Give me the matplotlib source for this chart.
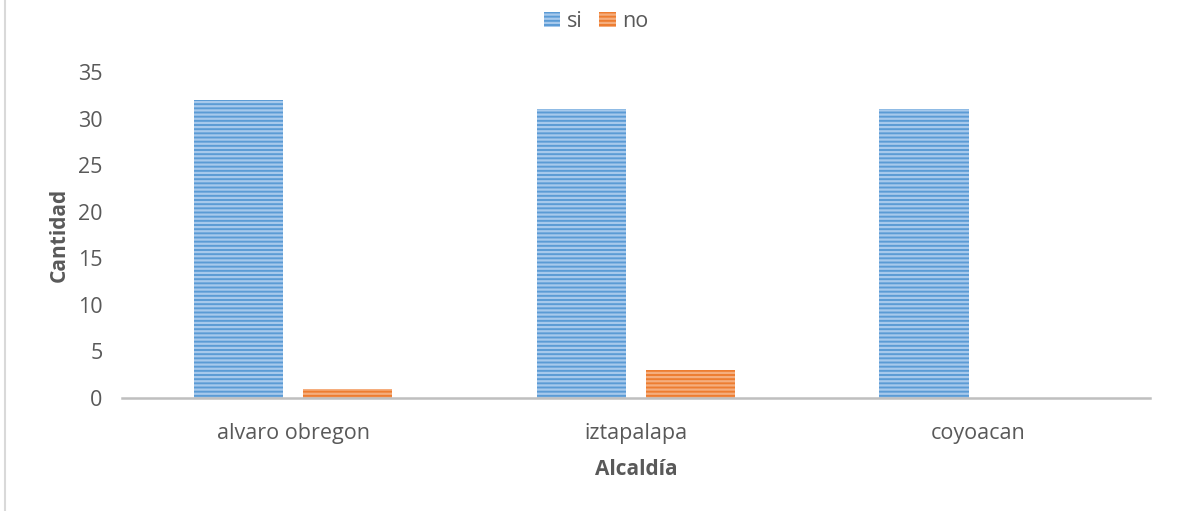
import matplotlib
matplotlib.use("Agg")
import matplotlib.pyplot as plt
import numpy as np
from matplotlib.lines import Line2D

categories = ["alvaro obregon", "iztapalapa", "coyoacan"]
si_values = [32, 31, 31]
no_values = [1, 3, 0]
series_names = ["si", "no"]
yticks = [0, 5, 10, 15, 20, 25, 30, 35]

plt.rcParams["font.family"] = ["Open Sans", "DejaVu Sans"]
plt.rcParams["hatch.linewidth"] = 1.6

fig = plt.figure(figsize=(11.78, 5.11), dpi=100)
ax = fig.add_axes([0.1036, 0.2211, 0.8724, 0.6380])

x = np.arange(len(categories))
width = 0.26
gap = 0.058
offset = (width + gap) / 2

ax.bar(x - offset, si_values, width, color="#5B9BD5", edgecolor="#A7C9EC",
       hatch="----", linewidth=0, label=series_names[0])
ax.bar(x + offset, no_values, width, color="#ED7D31", edgecolor="#F5AE7E",
       hatch="----", linewidth=0, label=series_names[1])

ax.set_xlim(-0.5, len(categories) - 0.5)
ax.set_ylim(0, 35)
ax.set_yticks(yticks)
ax.set_xticks(x)
ax.set_xticklabels(categories)

for side in ("left", "right", "top"):
    ax.spines[side].set_visible(False)
ax.spines["bottom"].set_color("#BFBFBF")
ax.spines["bottom"].set_linewidth(1.8)
ax.tick_params(axis="both", length=0, labelsize=15.5, colors="#595959")
ax.tick_params(axis="x", pad=18)
ax.tick_params(axis="y", pad=14)

ax.set_xlabel("Alcaldía", fontsize=15, fontweight="bold", color="#595959", labelpad=11)
ax.set_ylabel("Cantidad", fontsize=15, fontweight="bold", color="#595959", labelpad=6)

fig.legend(loc="center", bbox_to_anchor=(0.506, 0.958), ncol=2, frameon=False,
           fontsize=15.5, labelcolor="#595959", handlelength=0.75, handleheight=0.75,
           handletextpad=0.3, columnspacing=0.8)

fig.add_artist(Line2D([0.0045, 0.0045], [0.0, 1.0], transform=fig.transFigure,
                      color="#D9D9D9", linewidth=1.5))

fig.savefig("out.png", dpi=100, facecolor="white")
